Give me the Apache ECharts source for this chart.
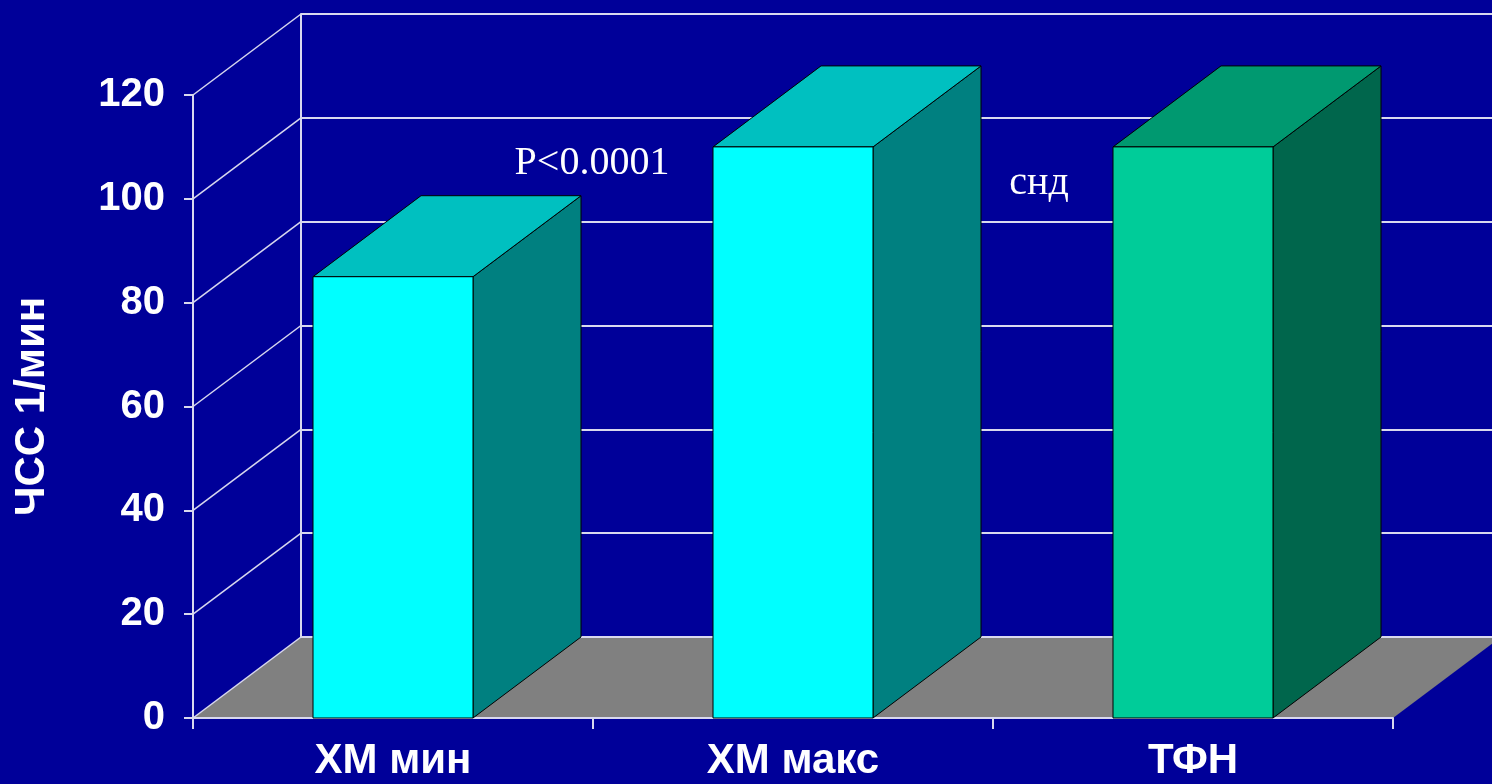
<!DOCTYPE html>
<html>
<head>
<meta charset="utf-8">
<title>ЧСС</title>
<script src="https://cdn.jsdelivr.net/npm/echarts@6/dist/echarts.min.js"></script>
<style>
  html, body { margin: 0; padding: 0; background: #000099; }
  #chart { width: 1492px; height: 784px; }
</style>
</head>
<body>
<div id="chart"></div>
<script>
// Heart rate by recording method
const categories = ['ХМ мин', 'ХМ макс', 'ТФН'];
const heartRate = [85, 110, 110];
const axisMin = 0;
const axisMax = 120;
const axisStep = 20;
const valueTicks = [0, 20, 40, 60, 80, 100, 120];
const notes = ['P<0.0001', 'снд'];
const axisTitle = 'ЧСС 1/мин';

// 3D look: depth offset of the back wall relative to the front plane (px)
const DX = 108;
const DY = -81;

// face colours per bar
const frontColors = ['#00FFFF', '#00FFFF', '#00CC99'];
const topColors = ['#00C0C0', '#00C0C0', '#009970'];
const sideColors = ['#008080', '#008080', '#00664C'];

const lineColor = '#d8d8ee';
const sansFont = '"Liberation Sans", Arial, sans-serif';
const serifFont = '"Liberation Serif", "Times New Roman", serif';

const front = { left: 193, top: 95, width: 1200, height: 623 };
const back = { left: front.left + DX, top: front.top + DY, width: 1200, height: 623 };

const chart = echarts.init(document.getElementById('chart'));

chart.setOption({
  backgroundColor: '#000099',
  animation: false,
  grid: [front, back],
  xAxis: [
    {
      gridIndex: 0,
      type: 'category',
      data: categories,
      axisLine: { show: true, lineStyle: { color: lineColor, width: 2 } },
      axisTick: { show: true, length: 11, lineStyle: { color: lineColor, width: 2 } },
      axisLabel: {
        color: '#ffffff', fontFamily: sansFont, fontWeight: 'bold',
        fontSize: 42, margin: 22
      },
      splitLine: { show: false }
    },
    {
      gridIndex: 1,
      type: 'category',
      data: categories,
      show: false
    }
  ],
  yAxis: [
    {
      gridIndex: 0,
      type: 'value',
      min: axisMin, max: axisMax, interval: axisStep,
      name: axisTitle,
      nameLocation: 'middle',
      nameRotate: 90,
      nameGap: 140,
      nameTextStyle: {
        color: '#ffffff', fontFamily: sansFont, fontWeight: 'bold', fontSize: 42
      },
      axisLine: { show: true, lineStyle: { color: lineColor, width: 2 } },
      axisTick: { show: true, length: 9, lineStyle: { color: lineColor, width: 2 } },
      axisLabel: {
        color: '#ffffff', fontFamily: sansFont, fontWeight: 'bold',
        fontSize: 40, margin: 28
      },
      splitLine: { show: false }
    },
    {
      gridIndex: 1,
      type: 'value',
      min: axisMin, max: axisMax, interval: axisStep,
      axisLine: { show: true, lineStyle: { color: lineColor, width: 2 } },
      axisTick: { show: false },
      axisLabel: { show: false },
      splitLine: { show: true, lineStyle: { color: lineColor, width: 2 } }
    }
  ],
  series: [
    {
      // grey floor of the box
      type: 'custom',
      xAxisIndex: 0, yAxisIndex: 0,
      z: -1,
      silent: true,
      data: [[0, axisMin]],
      renderItem: function (params, api) {
        const cs = params.coordSys;
        const y0 = api.coord([0, axisMin])[1];
        return {
          type: 'polygon',
          shape: {
            points: [
              [cs.x, y0],
              [cs.x + cs.width, y0],
              [cs.x + cs.width + DX, y0 + DY],
              [cs.x + DX, y0 + DY]
            ]
          },
          style: { fill: '#808080' }
        };
      }
    },
    {
      // receding lines on the left wall, one per value tick
      type: 'custom',
      xAxisIndex: 0, yAxisIndex: 0,
      z: 1,
      silent: true,
      data: valueTicks.map(function (v) { return [0, v]; }),
      renderItem: function (params, api) {
        const cs = params.coordSys;
        const y = api.coord([0, api.value(1)])[1];
        return {
          type: 'line',
          shape: { x1: cs.x, y1: y, x2: cs.x + DX, y2: y + DY },
          style: { stroke: lineColor, lineWidth: 1.5 }
        };
      }
    },
    {
      // 3D bars: front, top and side faces
      type: 'custom',
      xAxisIndex: 0, yAxisIndex: 0,
      z: 3,
      data: categories.map(function (c, i) { return [c, heartRate[i]]; }),
      renderItem: function (params, api) {
        const i = api.value(0);
        const v = api.value(1);
        const base = api.coord([i, axisMin]);
        const top = api.coord([i, v]);
        const w = api.size([1, 0])[0] * 0.4;
        const x0 = base[0] - w / 2;
        const x1 = base[0] + w / 2;
        const yb = base[1];
        const yt = top[1];
        const edge = { stroke: '#000000', lineWidth: 1 };
        return {
          type: 'group',
          children: [
            {
              type: 'polygon',
              shape: { points: [[x1, yt], [x1 + DX, yt + DY], [x1 + DX, yb + DY], [x1, yb]] },
              style: Object.assign({ fill: sideColors[i] }, edge)
            },
            {
              type: 'polygon',
              shape: { points: [[x0, yt], [x0 + DX, yt + DY], [x1 + DX, yt + DY], [x1, yt]] },
              style: Object.assign({ fill: topColors[i] }, edge)
            },
            {
              type: 'rect',
              shape: { x: x0, y: yt, width: w, height: yb - yt },
              style: Object.assign({ fill: frontColors[i] }, edge)
            }
          ]
        };
      }
    }
  ],
  graphic: [
    {
      type: 'text',
      x: 592, y: 163,
      style: {
        text: notes[0], fill: '#ffffff', font: '40px ' + serifFont,
        align: 'center', verticalAlign: 'middle'
      }
    },
    {
      type: 'text',
      x: 1039, y: 183,
      style: {
        text: notes[1], fill: '#ffffff', font: '40px ' + serifFont,
        align: 'center', verticalAlign: 'middle'
      }
    }
  ]
});
</script>
</body>
</html>
